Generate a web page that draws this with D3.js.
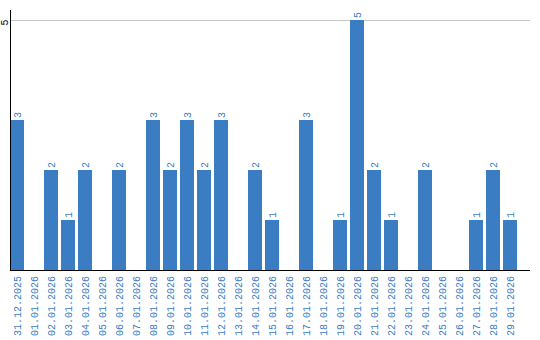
<!DOCTYPE html>
<html>
<head>
<meta charset="utf-8">
<script src="https://cdn.jsdelivr.net/npm/d3@7"></script>
<style>
  body { margin: 0; background: #fff; }
  text { font-family: "Liberation Mono", "DejaVu Sans Mono", monospace; font-size: 10px; }
</style>
</head>
<body>
<div id="chart"></div>
<script>
// daily counts
var dates = ["31.12.2025", "01.01.2026", "02.01.2026", "03.01.2026", "04.01.2026",
  "05.01.2026", "06.01.2026", "07.01.2026", "08.01.2026", "09.01.2026",
  "10.01.2026", "11.01.2026", "12.01.2026", "13.01.2026", "14.01.2026",
  "15.01.2026", "16.01.2026", "17.01.2026", "18.01.2026", "19.01.2026",
  "20.01.2026", "21.01.2026", "22.01.2026", "23.01.2026", "24.01.2026",
  "25.01.2026", "26.01.2026", "27.01.2026", "28.01.2026", "29.01.2026"];
var counts = [3, 0, 2, 1, 2, 0, 2, 0, 3, 2, 3, 2, 3, 0, 2, 1, 0, 3, 0, 1, 5, 2, 1, 0, 2, 0, 0, 1, 2, 1];
var yTicks = [5];

var W = 540, H = 340;
var blue = "#3a7dc2";

var svg = d3.select("#chart").append("svg")
  .attr("width", W)
  .attr("height", H);

var x = d3.scaleBand()
  .domain(dates)
  .range([10, 520])
  .paddingInner(3 / 17)
  .paddingOuter(3 / 34)
  .align(0);

var y = d3.scaleLinear()
  .domain([0, 5])
  .range([270, 20]);

var data = dates.map(function(d, i) { return {date: d, n: counts[i]}; });

// grid line
svg.selectAll("line.grid").data(yTicks).enter().append("line")
  .attr("class", "grid")
  .attr("x1", 10).attr("x2", 530)
  .attr("y1", function(d) { return y(d) + 0.5; })
  .attr("y2", function(d) { return y(d) + 0.5; })
  .attr("stroke", "#c8c8c8");

svg.selectAll("text.ytick").data(yTicks).enter().append("text")
  .attr("class", "ytick")
  .attr("transform", function(d) { return "translate(4," + (y(d) + 2.5) + ") rotate(-90)"; })
  .attr("text-anchor", "middle")
  .attr("dy", "0.35em")
  .attr("fill", "#000")
  .text(function(d) { return d; });

// bars
svg.selectAll("rect.bar").data(data).enter().append("rect")
  .attr("class", "bar")
  .attr("x", function(d) { return x(d.date); })
  .attr("y", function(d) { return y(d.n); })
  .attr("width", x.bandwidth())
  .attr("height", function(d) { return y(0) - y(d.n); })
  .attr("fill", blue);

// value labels
svg.selectAll("text.val").data(data.filter(function(d) { return d.n > 0; }))
  .enter().append("text")
  .attr("class", "val")
  .attr("transform", function(d) {
    return "translate(" + (x(d.date) + x.bandwidth() / 2) + "," + (y(d.n) - 2) + ") rotate(-90)";
  })
  .attr("dy", "0.35em")
  .attr("fill", blue)
  .text(function(d) { return d.n; });

// axes lines
svg.append("line")
  .attr("x1", 10.5).attr("x2", 10.5)
  .attr("y1", 10).attr("y2", 270)
  .attr("stroke", "#000");
svg.append("line")
  .attr("x1", 10).attr("x2", 530)
  .attr("y1", 270.5).attr("y2", 270.5)
  .attr("stroke", "#000");

// date labels
svg.selectAll("text.date").data(dates).enter().append("text")
  .attr("class", "date")
  .attr("transform", function(d) {
    return "translate(" + (x(d) + x.bandwidth() / 2) + ",276) rotate(-90)";
  })
  .attr("text-anchor", "end")
  .attr("dy", "0.35em")
  .attr("fill", blue)
  .text(function(d) { return d; });
</script>
</body>
</html>
